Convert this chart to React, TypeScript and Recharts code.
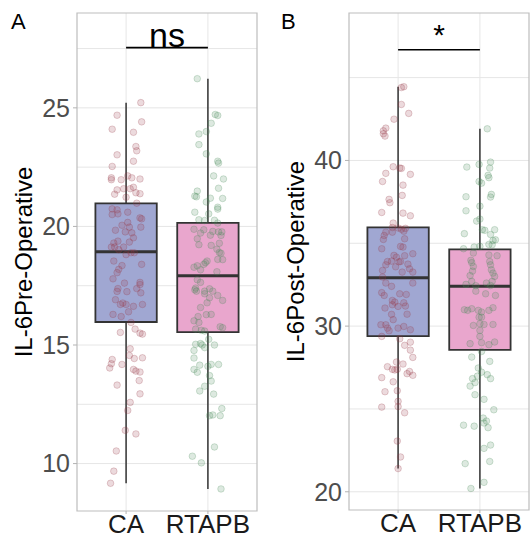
import React from 'react';
import {
  ComposedChart,
  Scatter,
  XAxis,
  YAxis,
  CartesianGrid,
  ReferenceArea,
  ReferenceLine,
} from 'recharts';

const FONT = '"Liberation Sans", Arial, Helvetica, sans-serif';

const groups = ['CA', 'RTAPB'];

// Panel A: IL-6 pre-operative box statistics [CA, RTAPB]
const preMin = [9.17, 8.93];
const preQ1 = [15.97, 15.54];
const preMedian = [18.93, 17.92];
const preQ3 = [20.97, 20.15];
const preMax = [25.22, 26.23];
const preTicks = [10, 15, 20, 25];
const preMinor = [12.5, 17.5, 22.5, 27.5];
const preDomain = [8, 29];
const preSig = { y: 27.54, label: 'ns' };

// Panel B: IL-6 post-operative box statistics [CA, RTAPB]
const postMin = [21.4, 20.2];
const postQ1 = [29.4, 28.56];
const postMedian = [32.92, 32.4];
const postQ3 = [35.96, 34.63];
const postMax = [44.45, 41.91];
const postTicks = [20, 30, 40];
const postMinor = [25, 35, 45];
const postDomain = [18.9, 48.9];
const postSig = { y: 46.68, label: '*' };

// jittered observations: [horizontal jitter (category units), value]
const caPre: [number, number][] = [
  [0.18, 25.22], [-0.11, 24.69], [0.19, 24.41], [-0.17, 24.1], [0.09, 23.97], [0.12, 23.37], [0.13, 23.19],
  [-0.11, 23.02], [0.09, 22.75], [-0.17, 22.53], [-0.18, 22.05], [-0.18, 21.97], [-0.06, 21.97], [0.02, 22.13],
  [0.07, 22.05], [0.17, 22.0], [-0.11, 21.54], [-0.14, 21.36], [-0.03, 21.59], [0.05, 21.59], [0.09, 21.65],
  [0.12, 21.42], [0.17, 21.38], [0.0, 21.23], [0.13, 20.98], [-0.17, 20.74], [-0.11, 20.7], [0.02, 20.6],
  [-0.17, 20.5], [-0.1, 20.53], [0.17, 20.36], [0.19, 20.32], [0.02, 20.17], [-0.05, 20.05], [0.18, 19.97],
  [0.04, 19.97], [-0.13, 19.84], [-0.01, 19.77], [0.07, 19.73], [0.09, 19.52], [-0.15, 19.3], [-0.1, 19.38],
  [0.04, 19.34], [-0.14, 19.13], [-0.18, 19.13], [-0.09, 19.02], [-0.03, 19.13], [0.06, 18.89], [0.1, 18.89],
  [0.0, 18.81], [-0.15, 18.54], [-0.05, 18.35], [0.19, 18.4], [-0.09, 18.19], [-0.11, 18.05], [-0.16, 17.79],
  [-0.02, 17.61], [0.17, 17.64], [0.17, 17.55], [-0.1, 17.38], [0.13, 17.38], [-0.11, 17.26], [0.01, 17.25],
  [0.18, 17.2], [-0.13, 16.91], [-0.07, 16.71], [0.0, 16.71], [0.09, 16.63], [0.2, 16.71], [-0.04, 16.77],
  [0.03, 16.4], [-0.16, 16.29], [-0.06, 16.2], [0.06, 15.95], [-0.07, 15.53], [0.11, 15.67], [0.17, 15.5],
  [0.2, 15.46], [0.05, 14.84], [0.04, 14.56], [0.1, 14.43], [0.2, 14.46], [-0.17, 14.39], [-0.18, 14.21],
  [-0.2, 14.03], [-0.05, 14.18], [0.09, 13.97], [0.12, 13.9], [0.17, 13.86], [0.16, 13.5], [-0.11, 13.31],
  [0.17, 12.94], [0.05, 12.58], [0.02, 12.24], [-0.01, 11.4], [0.12, 11.25], [-0.12, 10.53], [-0.15, 9.68],
  [-0.19, 9.17],
];

const rtapbPre: [number, number][] = [
  [-0.13, 26.23], [0.09, 24.72], [0.12, 24.68], [0.04, 24.35], [-0.02, 24.0], [-0.11, 23.9], [-0.11, 23.45],
  [-0.02, 23.06], [0.12, 22.75], [0.13, 22.67], [0.07, 22.13], [0.19, 22.0], [0.13, 21.61], [-0.13, 21.49],
  [-0.16, 21.28], [-0.14, 21.25], [0.03, 21.19], [0.18, 21.18], [-0.02, 21.03], [0.12, 20.81], [0.12, 20.73],
  [-0.16, 20.6], [0.01, 20.53], [-0.11, 20.28], [-0.04, 20.25], [0.08, 20.26], [0.12, 20.14], [-0.17, 19.88],
  [-0.05, 19.86], [-0.09, 19.72], [0.03, 19.63], [0.06, 19.79], [0.13, 19.77], [0.17, 19.77], [0.16, 19.62],
  [-0.13, 19.48], [0.04, 19.2], [0.14, 19.29], [-0.11, 19.23], [0.11, 19.04], [0.14, 18.9], [0.16, 18.87],
  [0.18, 18.6], [0.12, 18.61], [-0.01, 18.54], [-0.03, 18.47], [-0.05, 18.4], [-0.17, 18.28], [-0.13, 18.34],
  [-0.09, 18.17], [0.11, 18.09], [-0.13, 17.75], [-0.09, 17.64], [-0.15, 17.4], [0.02, 17.37], [-0.16, 17.33],
  [-0.14, 17.27], [-0.04, 17.27], [0.06, 17.27], [-0.04, 17.16], [0.12, 17.09], [0.18, 16.88], [0.02, 16.99],
  [-0.01, 16.78], [-0.09, 16.58], [-0.12, 16.2], [-0.02, 16.28], [0.04, 16.29], [-0.17, 16.02], [-0.11, 15.95],
  [0.15, 15.77], [0.18, 15.73], [-0.15, 15.67], [-0.08, 15.62], [-0.04, 15.59], [0.01, 15.24], [-0.15, 15.03],
  [-0.09, 15.06], [-0.07, 15.0], [0.08, 15.0], [-0.17, 14.77], [-0.04, 14.89], [-0.17, 14.45], [-0.1, 14.15],
  [0.0, 14.1], [0.04, 14.18], [0.13, 14.18], [-0.17, 13.97], [-0.13, 13.85], [0.02, 13.71], [0.04, 13.48],
  [-0.04, 13.26], [-0.1, 13.06], [0.07, 12.93], [0.17, 12.32], [0.02, 12.02], [0.06, 12.05], [0.15, 12.02],
  [0.08, 10.7], [-0.19, 10.31], [-0.08, 10.03], [0.16, 8.93],
];

const caPost: [number, number][] = [
  [0.07, 44.45], [0.04, 44.4], [0.04, 43.38], [0.13, 42.84], [-0.05, 42.49], [-0.15, 41.95], [-0.18, 41.79],
  [-0.18, 41.61], [-0.16, 41.47], [-0.06, 39.62], [0.02, 39.54], [0.04, 39.52], [-0.15, 39.22], [0.15, 39.16],
  [-0.19, 38.73], [0.06, 38.51], [0.05, 37.89], [-0.11, 37.65], [-0.1, 37.45], [-0.2, 36.86], [0.06, 36.82],
  [0.15, 36.66], [-0.06, 36.22], [0.09, 35.9], [0.04, 35.85], [0.0, 35.92], [-0.07, 35.95], [-0.15, 35.67],
  [-0.07, 35.67], [0.07, 35.73], [-0.18, 35.23], [-0.17, 35.47], [0.08, 35.27], [0.03, 34.81], [0.06, 34.77],
  [-0.2, 34.67], [0.18, 34.37], [-0.05, 34.27], [-0.02, 34.16], [0.08, 34.25], [-0.13, 33.9], [-0.08, 33.92],
  [0.01, 33.88], [0.03, 33.9], [0.12, 33.74], [0.14, 33.46], [-0.03, 33.58], [-0.15, 33.7], [-0.19, 33.36],
  [0.05, 33.26], [0.18, 33.26], [-0.19, 32.96], [-0.15, 32.6], [0.18, 32.6], [-0.08, 32.4], [-0.2, 32.02],
  [-0.17, 31.85], [0.02, 31.95], [0.1, 31.91], [-0.07, 31.55], [-0.04, 31.45], [-0.07, 31.29], [0.0, 31.19],
  [0.07, 31.41], [0.09, 31.21], [-0.16, 31.09], [-0.08, 30.71], [0.11, 30.72], [-0.06, 30.39], [-0.21, 30.08],
  [-0.15, 30.08], [-0.13, 29.88], [-0.11, 29.72], [0.0, 29.88], [0.07, 29.98], [0.15, 29.78], [-0.2, 29.38],
  [0.02, 29.24], [0.15, 29.03], [0.08, 28.84], [0.15, 28.55], [0.18, 28.11], [-0.02, 27.83], [0.06, 27.71],
  [-0.13, 27.55], [-0.07, 27.39], [-0.04, 27.35], [-0.01, 27.39], [0.14, 27.26], [0.11, 27.13], [0.18, 27.03],
  [-0.2, 26.89], [-0.06, 26.64], [-0.16, 26.04], [-0.01, 26.1], [0.0, 25.46], [0.0, 25.14], [-0.2, 25.11],
  [0.08, 24.77], [-0.01, 23.06], [0.03, 22.1], [0.0, 21.4],
];

const rtapbPost: [number, number][] = [
  [0.09, 41.91], [-0.16, 39.6], [-0.01, 39.76], [0.13, 39.9], [0.12, 39.54], [0.1, 39.1], [0.11, 38.96],
  [-0.01, 38.73], [0.02, 38.63], [-0.17, 37.81], [0.14, 37.95], [0.13, 37.79], [0.0, 37.24], [-0.17, 36.96],
  [-0.04, 36.34], [0.0, 36.46], [-0.19, 35.58], [0.03, 35.82], [0.06, 35.78], [0.18, 35.82], [0.13, 35.53],
  [0.19, 35.21], [0.16, 35.17], [0.11, 34.93], [0.15, 34.91], [-0.07, 34.77], [-0.2, 34.67], [0.0, 34.81],
  [-0.08, 34.41], [0.11, 34.29], [0.21, 34.25], [-0.11, 33.97], [-0.1, 33.83], [-0.08, 33.6], [-0.09, 33.32],
  [-0.12, 33.05], [-0.1, 32.7], [0.12, 33.9], [0.13, 33.7], [0.14, 33.4], [0.16, 33.2], [0.18, 33.0],
  [0.15, 32.7], [0.13, 32.45], [-0.17, 32.52], [-0.05, 32.44], [0.08, 32.6], [-0.05, 32.11], [0.07, 31.95],
  [0.19, 31.85], [-0.19, 30.99], [-0.15, 30.95], [-0.1, 31.05], [-0.02, 30.95], [0.02, 30.85], [0.11, 30.95],
  [0.16, 31.11], [-0.01, 30.54], [0.02, 30.54], [-0.08, 30.04], [0.0, 30.14], [0.05, 30.1], [0.16, 30.1],
  [0.0, 29.74], [0.0, 29.38], [-0.12, 28.94], [0.02, 29.0], [0.11, 28.88], [0.18, 29.04], [0.02, 28.47],
  [-0.1, 28.13], [0.12, 27.87], [-0.02, 27.47], [0.02, 27.22], [0.09, 27.07], [-0.03, 26.98], [-0.09, 26.83],
  [-0.06, 26.59], [-0.12, 26.38], [0.13, 26.83], [-0.06, 25.86], [0.05, 25.58], [0.17, 24.95], [-0.2, 24.02],
  [-0.07, 23.96], [0.04, 24.45], [0.08, 24.27], [0.05, 24.15], [0.1, 23.87], [0.13, 22.82], [0.05, 22.62],
  [-0.18, 21.7], [0.12, 21.83], [0.05, 20.57], [-0.11, 20.2],
];

const BOX_FILL = ['#a0a7d2', '#e9a6cd'];
const PT_COLOR = ['#983a48', '#488a58'];
const BOX_HALF = 0.375;

type PanelProps = {
  width: number;
  height: number;
  yAxisWidth: number;
  margin: { top: number; right: number; bottom: number; left: number };
  domain: number[];
  ticks: number[];
  minor: number[];
  stats: { min: number[]; q1: number[]; med: number[]; q3: number[]; max: number[] };
  points: [number, number][][];
  title: string;
  titleBaseline: number;
  sig: { y: number; label: string };
  sigFont: number;
  sigOffset: number;
};

function Panel(p: PanelProps) {
  const xDomain = [0.4, 2.6];
  return (
    <ComposedChart width={p.width} height={p.height} margin={p.margin}>
      <CartesianGrid
        horizontalValues={[...p.ticks, ...p.minor]}
        verticalValues={[1, 2]}
        stroke="#e6e6e6"
        strokeWidth={1}
      />
      <XAxis
        type="number"
        dataKey="x"
        domain={xDomain}
        ticks={[1, 2]}
        allowDataOverflow
        tickFormatter={(v: number) => groups[Math.round(v) - 1]}
        axisLine={false}
        tickLine={{ stroke: '#b3b3b3' }}
        tickSize={3}
        tickMargin={1}
        height={29}
        tick={{ fontSize: 26, fill: '#1a1a1a', fontFamily: FONT }}
        interval={0}
      />
      <YAxis
        type="number"
        dataKey="y"
        domain={p.domain}
        ticks={p.ticks}
        allowDataOverflow
        axisLine={false}
        tickLine={{ stroke: '#b3b3b3' }}
        tickSize={4}
        tickMargin={3}
        width={p.yAxisWidth}
        tick={{ fontSize: 25, fill: '#4d4d4d', fontFamily: FONT }}
        interval={0}
        label={(lp: any) => {
          const vb = lp.viewBox || {};
          const x = (vb.x || 0) + p.titleBaseline;
          const y = (vb.y || 0) + (vb.height || 0) / 2;
          return (
            <text
              x={x}
              y={y}
              transform={`rotate(-90, ${x}, ${y})`}
              textAnchor="middle"
              fontSize={24}
              fill="#000"
              fontFamily={FONT}
            >
              {p.title}
            </text>
          );
        }}
      />
      <ReferenceArea
        x1={xDomain[0]}
        x2={xDomain[1]}
        y1={p.domain[0]}
        y2={p.domain[1]}
        fill="none"
        fillOpacity={0}
        stroke="#bdbdbd"
        strokeWidth={1.2}
        ifOverflow="visible"
      />
      {groups.map((g, i) => (
        <ReferenceArea
          key={'box' + g}
          x1={i + 1 - BOX_HALF}
          x2={i + 1 + BOX_HALF}
          y1={p.stats.q1[i]}
          y2={p.stats.q3[i]}
          fill={BOX_FILL[i]}
          fillOpacity={1}
          stroke="#333333"
          strokeWidth={1.8}
          ifOverflow="visible"
        />
      ))}
      {groups.map((g, i) => (
        <ReferenceLine
          key={'wu' + g}
          segment={[
            { x: i + 1, y: p.stats.q3[i] },
            { x: i + 1, y: p.stats.max[i] },
          ]}
          stroke="#333333"
          strokeWidth={1.5}
          ifOverflow="visible"
        />
      ))}
      {groups.map((g, i) => (
        <ReferenceLine
          key={'wl' + g}
          segment={[
            { x: i + 1, y: p.stats.min[i] },
            { x: i + 1, y: p.stats.q1[i] },
          ]}
          stroke="#333333"
          strokeWidth={1.5}
          ifOverflow="visible"
        />
      ))}
      {groups.map((g, i) => (
        <ReferenceLine
          key={'med' + g}
          segment={[
            { x: i + 1 - BOX_HALF, y: p.stats.med[i] },
            { x: i + 1 + BOX_HALF, y: p.stats.med[i] },
          ]}
          stroke="#333333"
          strokeWidth={3}
          ifOverflow="visible"
        />
      ))}
      {groups.map((g, i) => (
        <Scatter
          key={'pts' + g}
          isAnimationActive={false}
          data={p.points[i].map(([j, v]) => ({ x: i + 1 + j, y: v }))}
          shape={(sp: any) => (
            <circle
              cx={sp.cx}
              cy={sp.cy}
              r={3.3}
              fill={PT_COLOR[i]}
              fillOpacity={0.19}
              stroke={PT_COLOR[i]}
              strokeOpacity={0.3}
              strokeWidth={0.8}
            />
          )}
        />
      ))}
      <ReferenceLine
        segment={[
          { x: 1, y: p.sig.y },
          { x: 2, y: p.sig.y },
        ]}
        stroke="#000"
        strokeWidth={1.6}
        ifOverflow="visible"
        label={{
          value: p.sig.label,
          position: 'top',
          offset: p.sigOffset,
          fontSize: p.sigFont,
          fill: '#000',
          fontFamily: FONT,
        }}
      />
    </ComposedChart>
  );
}

export default function App() {
  return (
    <div
      style={{
        position: 'absolute',
        left: 0,
        top: 0,
        width: 532,
        height: 540,
        background: '#fff',
        fontFamily: FONT,
      }}
    >
      <div style={{ position: 'absolute', left: 0, top: 0 }}>
        <Panel
          width={266}
          height={540}
          yAxisWidth={77}
          margin={{ top: 13, right: 9, bottom: 0, left: 0 }}
          domain={preDomain}
          ticks={preTicks}
          minor={preMinor}
          stats={{ min: preMin, q1: preQ1, med: preMedian, q3: preQ3, max: preMax }}
          points={[caPre, rtapbPre]}
          title="IL-6Pre-Operative"
          titleBaseline={31.7}
          sig={preSig}
          sigFont={34}
          sigOffset={1}
        />
      </div>
      <div style={{ position: 'absolute', left: 266, top: 0 }}>
        <Panel
          width={266}
          height={540}
          yAxisWidth={83}
          margin={{ top: 13, right: 3, bottom: 1, left: 0 }}
          domain={postDomain}
          ticks={postTicks}
          minor={postMinor}
          stats={{ min: postMin, q1: postQ1, med: postMedian, q3: postQ3, max: postMax }}
          points={[caPost, rtapbPost]}
          title="IL-6Post-Operative"
          titleBaseline={38.3}
          sig={postSig}
          sigFont={30}
          sigOffset={5}
        />
      </div>
      <svg
        width={532}
        height={540}
        style={{ position: 'absolute', left: 0, top: 0, pointerEvents: 'none' }}
      >
        <text x={11} y={28.5} fontSize={22} fill="#000" fontFamily={FONT}>
          A
        </text>
        <text x={281} y={28.5} fontSize={22} fill="#000" fontFamily={FONT}>
          B
        </text>
      </svg>
    </div>
  );
}
